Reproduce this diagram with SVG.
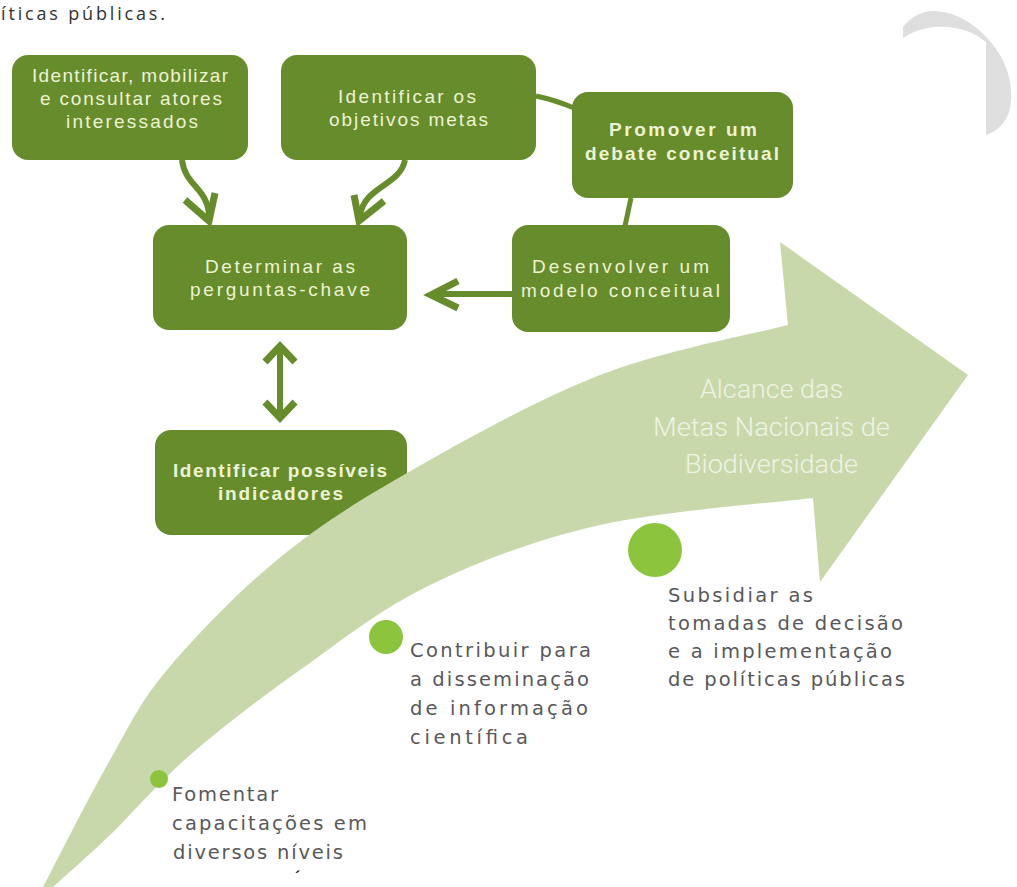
<svg xmlns="http://www.w3.org/2000/svg" width="1017" height="887" viewBox="0 0 1017 887">
<style>
.box{fill:#668c2c}
.bt{font-family:"Liberation Sans",Arial,sans-serif;font-size:19px;fill:#eef3d4}
.bb{font-weight:bold}
.gt{font-family:"DejaVu Sans","Open Sans","Liberation Sans",sans-serif;font-size:19.5px;fill:#58585a}
.at{font-family:Roboto,"Liberation Sans",sans-serif;font-weight:300;font-size:25px;fill:#eef3e4}
.con{fill:none;stroke:#668c2c;stroke-width:6}
.head{fill:none;stroke:#668c2c;stroke-width:7;stroke-linejoin:miter;stroke-linecap:butt}
.dot{fill:#8cc43e}
</style>
<rect width="1017" height="887" fill="#ffffff"/>
<text x="1" y="20" font-family="'Open Sans','Liberation Sans',sans-serif" font-size="18" fill="#333333" textLength="164" lengthAdjust="spacing">íticas públicas.</text>
<path d="M903,27 C912,15 925,10 935,11 C960,12 985,30 1000,55 C1012,75 1014,100 1008,115 C1003,126 995,132 986,135 L986,42 C975,32 955,25 935,27 C922,28 910,33 903,38 Z" fill="#dedede"/>

<g id="connectors">
  <path class="con" d="M182,160 C185,186 208,188 209,216"/>
  <path class="head" d="M185,200 L209,221 L215,193"/>
  <path class="con" d="M405,160 C400,186 364,186 360,216"/>
  <path class="head" d="M354,195 L359,221 L384,201"/>
  <path class="con" style="stroke-width:5" d="M536,96 Q555,100 574,108"/>
  <path class="con" style="stroke-width:5" d="M631,198 L625,226"/>
  <path class="con" d="M512,294 L434,294"/>
  <path class="head" d="M458,281 L431,295 L458,308"/>
  <path class="con" d="M280,350 L280,415"/>
  <path class="head" d="M265,362 L280,346 L295,362"/>
  <path class="head" d="M265,402 L280,418 L295,402"/>
</g>

<g id="node-identificar-mobilizar">
  <rect class="box" x="12" y="55" width="236" height="105" rx="16"/>
  <text class="bt" x="32" y="82" textLength="196" lengthAdjust="spacing">Identificar, mobilizar</text>
  <text class="bt" x="40" y="105" textLength="182" lengthAdjust="spacing">e consultar atores</text>
  <text class="bt" x="66" y="128" textLength="132" lengthAdjust="spacing">interessados</text>
</g>
<g id="node-identificar-objetivos">
  <rect class="box" x="281" y="55" width="255" height="105" rx="16"/>
  <text class="bt" x="338" y="103" textLength="138" lengthAdjust="spacing">Identificar os</text>
  <text class="bt" x="329" y="126" textLength="159" lengthAdjust="spacing">objetivos metas</text>
</g>
<g id="node-promover-debate">
  <rect class="box" x="572" y="92" width="221" height="106" rx="16"/>
  <text class="bt bb" x="609" y="136" textLength="148" lengthAdjust="spacing">Promover um</text>
  <text class="bt bb" x="585" y="160" textLength="194" lengthAdjust="spacing">debate conceitual</text>
</g>
<g id="node-desenvolver-modelo">
  <rect class="box" x="512" y="225" width="218" height="107" rx="16"/>
  <text class="bt" x="532" y="273" textLength="177" lengthAdjust="spacing">Desenvolver um</text>
  <text class="bt" x="521" y="297" textLength="199" lengthAdjust="spacing">modelo conceitual</text>
</g>
<g id="node-determinar-perguntas">
  <rect class="box" x="153" y="225" width="254" height="105" rx="16"/>
  <text class="bt" x="205" y="273" textLength="150" lengthAdjust="spacing">Determinar as</text>
  <text class="bt" x="190" y="296" textLength="180" lengthAdjust="spacing">perguntas-chave</text>
</g>
<g id="node-identificar-indicadores">
  <rect class="box" x="155" y="430" width="252" height="105" rx="16"/>
  <text class="bt bb" x="173" y="477" textLength="214" lengthAdjust="spacing">Identificar possíveis</text>
  <text class="bt bb" x="218" y="500" textLength="125" lengthAdjust="spacing">indicadores</text>
</g>

<g id="progress-arrow">
  <path fill="#c8d8aa" d="M43,887 C54.2,865.8 89.3,796.2 110,760 C130.7,723.8 139.2,703.3 167,670 C194.8,636.7 237,592.8 277,560 C317,527.2 353.2,503.8 407,473 C460.8,442.2 536.5,399.7 600,375 C663.5,350.3 756.7,333.3 788,325 L780,242 L968,375 L820,582 L813,498 C777.5,502.5 663.8,510.5 600,525 C536.2,539.5 480,560.8 430,585 C380,609.2 340,641.7 300,670 C260,698.3 221.7,727.5 190,755 C158.3,782.5 132.8,813 110,835 C87.2,857 62.5,878.3 53,887 Z"/>
  <text class="at" x="700" y="398" textLength="143" lengthAdjust="spacingAndGlyphs">Alcance das</text>
  <text class="at" x="653" y="436" textLength="237" lengthAdjust="spacingAndGlyphs">Metas Nacionais de</text>
  <text class="at" x="685" y="473" textLength="173" lengthAdjust="spacingAndGlyphs">Biodiversidade</text>
</g>

<g id="milestone-subsidiar">
  <circle class="dot" cx="655" cy="550" r="27"/>
  <text class="gt" x="668" y="602" textLength="145" lengthAdjust="spacing">Subsidiar as</text>
  <text class="gt" x="668" y="630" textLength="235" lengthAdjust="spacing">tomadas de decisão</text>
  <text class="gt" x="668" y="658" textLength="224" lengthAdjust="spacing">e a implementação</text>
  <text class="gt" x="668" y="686" textLength="237" lengthAdjust="spacing">de políticas públicas</text>
</g>
<g id="milestone-contribuir">
  <circle class="dot" cx="386" cy="637" r="17"/>
  <text class="gt" x="410" y="657" textLength="181" lengthAdjust="spacing">Contribuir para</text>
  <text class="gt" x="410" y="686" textLength="179" lengthAdjust="spacing">a disseminação</text>
  <text class="gt" x="410" y="715" textLength="178" lengthAdjust="spacing">de informação</text>
  <text class="gt" x="410" y="744" textLength="118" lengthAdjust="spacing">científica</text>
</g>
<g id="milestone-fomentar">
  <circle class="dot" cx="159" cy="779" r="9"/>
  <text class="gt" x="172" y="801" textLength="106" lengthAdjust="spacing">Fomentar</text>
  <text class="gt" x="172" y="830" textLength="195" lengthAdjust="spacing">capacitações em</text>
  <text class="gt" x="173" y="859" textLength="170" lengthAdjust="spacing">diversos níveis</text>
</g>
<text x="295" y="883" font-family="'Liberation Sans',Arial,sans-serif" font-size="16" font-weight="bold" fill="#222222">´</text>
</svg>
